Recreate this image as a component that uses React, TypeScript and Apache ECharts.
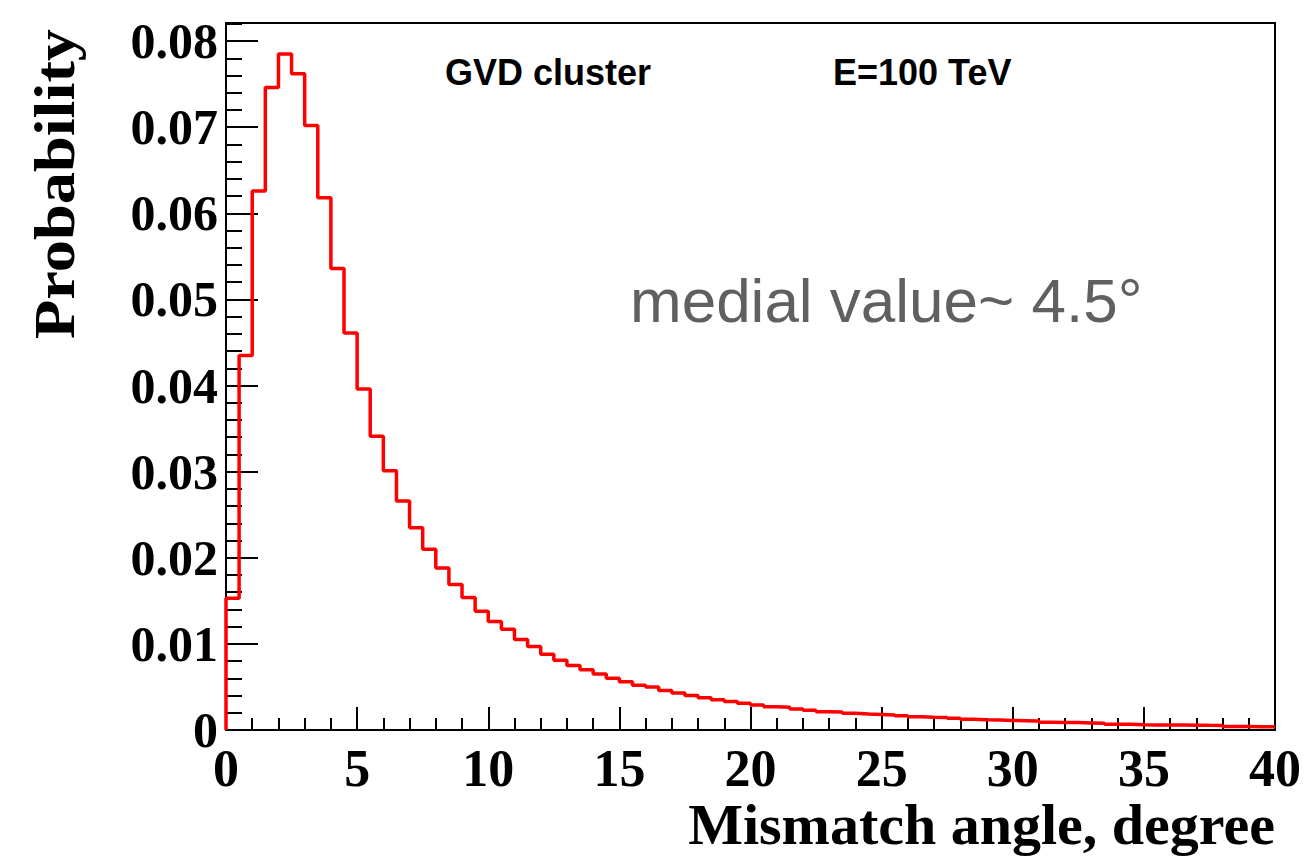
import React, { useEffect, useRef } from 'react';
import * as echarts from 'echarts';

// Histogram: 0.5-degree bins from 0 to 40 degrees
const binStart = 0;
const binWidth = 0.5;
const probability = [
  0.0153, 0.0435, 0.0626, 0.0746, 0.0785, 0.0762, 0.0702, 0.0618, 0.0536, 0.0461,
  0.0396, 0.0341, 0.0301, 0.0266, 0.0235, 0.0210, 0.0188, 0.0169, 0.0154, 0.0138,
  0.0126, 0.0117, 0.0105, 0.0097, 0.0088, 0.0081, 0.0075, 0.0070, 0.0065, 0.0060,
  0.0056, 0.0052, 0.0050, 0.0046, 0.0043, 0.0040, 0.00375, 0.0035, 0.0033, 0.0031,
  0.0029, 0.0027, 0.00263, 0.00244, 0.0023, 0.00213, 0.0021, 0.00194, 0.00186, 0.0018,
  0.00174, 0.00165, 0.00155, 0.00147, 0.00145, 0.00136, 0.00124, 0.00118, 0.00115, 0.0011,
  0.00108, 0.00105, 0.0009, 0.00088, 0.00086, 0.00082, 0.00078, 0.00068, 0.00066, 0.0006,
  0.00058, 0.00058, 0.00057, 0.00056, 0.00054, 0.00053, 0.0004, 0.0004, 0.00038, 0.00038,
];

const xMin = 0;
const xMax = 40;
const xInterval = 5;
const yMin = 0;
const yMax = 0.0821;
const yInterval = 0.01;
const yMinorInterval = 0.002;

const xTitle = 'Mismatch angle, degree';
const yTitle = 'Probability';
const label1 = 'GVD cluster';
const label2 = 'E=100 TeV';
const label3 = 'medial value~ 4.5°';

export default function App() {
  const ref = useRef<HTMLDivElement>(null);

  useEffect(() => {
    if (!ref.current) return;
    const chart = echarts.init(ref.current, null, { renderer: 'svg' });

    // Build the stair outline from the bin values
    const stair: [number, number][] = [[binStart, 0]];
    probability.forEach((v, i) => {
      const x0 = binStart + i * binWidth;
      stair.push([x0, v]);
      stair.push([x0 + binWidth, v]);
    });

    const serif = 'Liberation Serif, Times New Roman, serif';
    const sans = 'Liberation Sans, Arial, Helvetica, sans-serif';

    chart.setOption({
      animation: false,
      backgroundColor: '#ffffff',
      grid: {
        left: 226,
        right: 33,
        top: 23,
        bottom: 129,
        show: true,
        borderColor: '#000000',
        borderWidth: 2,
        backgroundColor: 'transparent',
      },
      xAxis: {
        type: 'value',
        min: xMin,
        max: xMax,
        interval: xInterval,
        axisLine: { show: true, lineStyle: { color: '#000', width: 2 } },
        axisTick: { show: true, inside: true, length: 23, lineStyle: { color: '#000', width: 2 } },
        minorTick: { show: true, splitNumber: 5, length: 12, lineStyle: { color: '#000', width: 2 } },
        splitLine: { show: false },
        axisLabel: {
          show: true,
          margin: 18,
          color: '#000',
          fontFamily: serif,
          fontWeight: 'bold',
          fontSize: 52,
          lineHeight: 40,
        },
      },
      yAxis: [
        {
          type: 'value',
          min: yMin,
          max: yMax,
          interval: yInterval,
          axisLine: { show: true, lineStyle: { color: '#000', width: 2 } },
          axisTick: { show: true, inside: true, length: 32, lineStyle: { color: '#000', width: 2 } },
          splitLine: { show: false },
          axisLabel: {
            show: true,
            margin: 8,
            color: '#000',
            fontFamily: serif,
            fontWeight: 'bold',
            fontSize: 50,
            lineHeight: 40,
            formatter: (v: number) => {
              const k = v / yInterval;
              if (Math.abs(k - Math.round(k)) > 1e-6) return '';
              return v === 0 ? '0' : v.toFixed(2);
            },
          },
        },
        {
          type: 'value',
          min: yMin,
          max: yMax,
          interval: yMinorInterval,
          position: 'left',
          offset: 0,
          axisLine: { show: false },
          axisTick: { show: true, inside: true, length: 16, lineStyle: { color: '#000', width: 2 } },
          splitLine: { show: false },
          axisLabel: { show: false },
        },
      ],
      series: [
        {
          type: 'line',
          data: stair,
          showSymbol: false,
          symbol: 'none',
          clip: false,
          lineStyle: { color: '#ff0000', width: 3.5 },
          z: 5,
        },
      ],
      graphic: [
        {
          type: 'text',
          x: 55,
          y: 184,
          rotation: Math.PI / 2,
          scaleX: 1.15,
          style: {
            text: yTitle,
            fontFamily: serif,
            fontWeight: 'bold',
            fontSize: 56,
            fill: '#000',
            align: 'center',
            verticalAlign: 'middle',
          },
        },
        {
          type: 'text',
          x: 1275,
          y: 824,
          style: {
            text: xTitle,
            fontFamily: serif,
            fontWeight: 'bold',
            fontSize: 58,
            lineHeight: 48,
            fill: '#000',
            align: 'right',
            verticalAlign: 'middle',
          },
        },
        {
          type: 'text',
          x: 445,
          y: 72,
          style: {
            text: label1,
            fontFamily: sans,
            fontWeight: 'bold',
            fontSize: 36,
            fill: '#000',
            align: 'left',
            verticalAlign: 'middle',
          },
        },
        {
          type: 'text',
          x: 833,
          y: 72,
          style: {
            text: label2,
            fontFamily: sans,
            fontWeight: 'bold',
            fontSize: 36,
            fill: '#000',
            align: 'left',
            verticalAlign: 'middle',
          },
        },
        {
          type: 'text',
          x: 630,
          y: 300,
          style: {
            text: label3,
            fontFamily: sans,
            fontWeight: 'normal',
            fontSize: 62,
            fill: '#606060',
            align: 'left',
            verticalAlign: 'middle',
          },
        },
      ],
    });

    return () => chart.dispose();
  }, []);

  return (
    <div
      ref={ref}
      style={{ position: 'fixed', left: 0, top: 0, width: 1308, height: 859, background: '#fff' }}
    />
  );
}
